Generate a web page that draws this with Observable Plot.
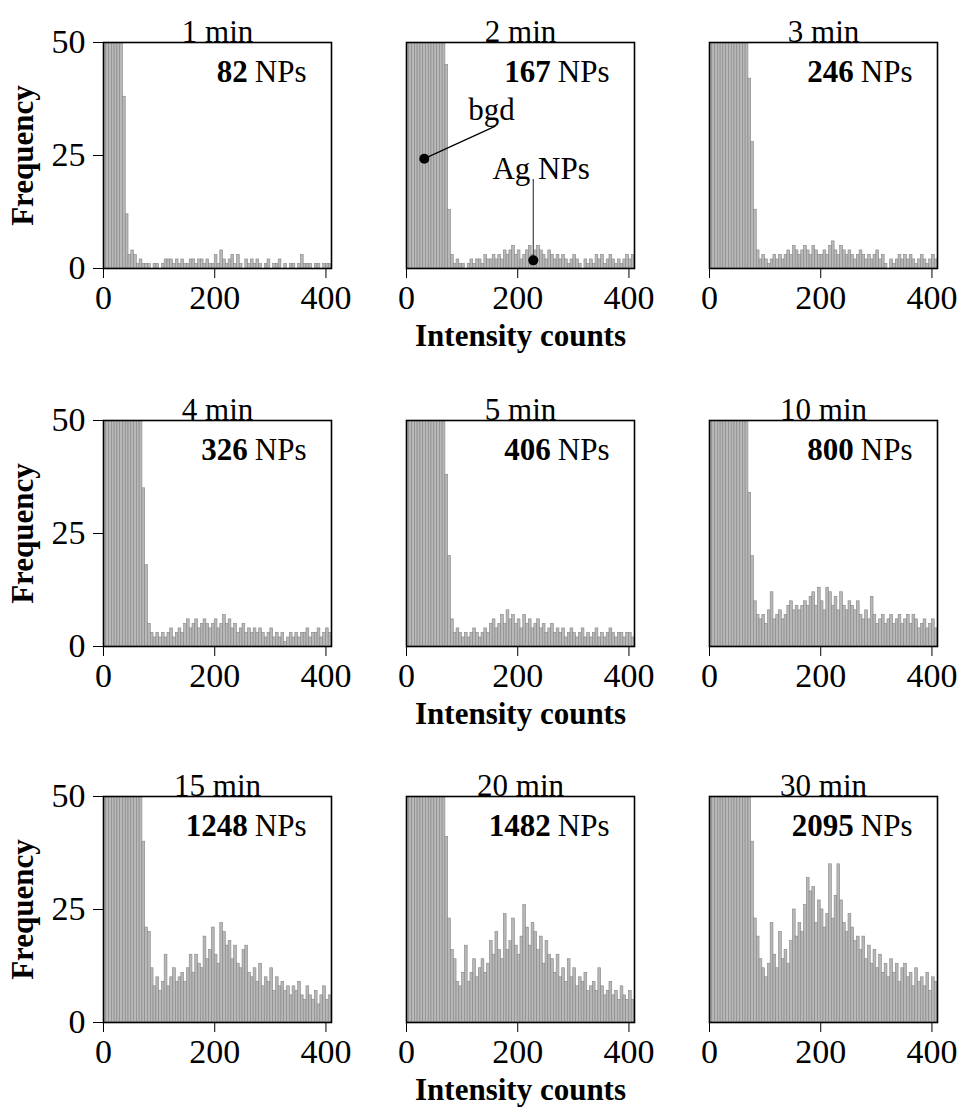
<!DOCTYPE html>
<html><head><meta charset="utf-8">
<script src="https://cdn.jsdelivr.net/npm/d3@7"></script>
<script src="https://cdn.jsdelivr.net/npm/@observablehq/plot@0.6"></script>
<style>
html,body{margin:0;padding:0;background:#fff;overflow:hidden}
#chart{position:relative;width:959px;height:1109px;overflow:hidden}
#chart svg{position:absolute;overflow:visible}
</style></head><body><div id="chart"></div>
<script>
// panel titles and particle totals
const titles = ["1 min","2 min","3 min","4 min","5 min","10 min","15 min","20 min","30 min"];
const totals = ["82","167","246","326","406","800","1248","1482","2095"];
const binWidth = 5; // intensity counts per bin, bins start at 0
const xTicks = [0, 200, 400];
const yTicks = [0, 25, 50];

// frequencies per bin (bin 0 = 0-5 counts, ...); bgd bins exceed the 50 axis limit
const f1 = [200,200,200,200,200,200,200,38,12,3,
  4,3,1,2,1,1,1,0,1,1,
  0,1,2,2,2,1,2,1,2,1,
  1,2,2,1,2,2,1,2,1,1,
  3,1,4,2,1,2,3,1,3,1,
  0,2,1,2,1,2,1,0,1,2,
  0,1,1,2,0,1,0,1,1,0,
  1,3,1,1,1,0,1,1,0,1,
  1,1];
const f2 = [200,200,200,200,200,200,200,200,200,200,
  200,200,200,200,45,13,3,1,2,1,
  1,0,1,2,1,2,2,1,3,2,
  2,3,2,3,2,4,3,4,5,3,
  4,2,3,4,5,3,4,5,4,3,
  2,4,3,2,3,2,3,2,1,2,
  3,2,1,0,2,1,2,1,3,2,
  3,1,2,3,2,1,2,1,2,3,
  2,3];
const f3 = [200,200,200,200,200,200,200,200,200,200,
  200,200,200,200,42,28,13,4,2,3,
  2,1,2,3,2,3,2,3,4,3,
  5,4,3,4,5,4,3,5,4,3,
  3,4,3,5,6,4,3,5,4,3,
  4,3,2,3,4,3,2,3,2,3,
  4,2,3,1,0,2,1,2,3,2,
  3,2,3,2,1,2,3,2,1,2,
  3,2];
const f4 = [200,200,200,200,200,200,200,200,200,200,
  200,200,200,200,35,18,5,3,2,3,
  2,3,2,3,4,2,3,4,3,5,
  6,4,5,6,4,5,6,5,4,5,
  6,4,5,7,5,6,4,5,3,4,
  5,3,4,3,4,3,4,3,2,3,
  4,2,3,2,3,1,2,3,2,3,
  2,3,3,4,2,3,3,4,2,3,
  4,3];
const f5 = [200,200,200,200,200,200,200,200,200,200,
  200,200,200,200,38,20,6,3,4,3,
  2,3,2,3,4,3,2,3,4,3,
  5,6,4,5,7,5,8,6,7,5,
  6,4,7,5,6,4,5,6,4,5,
  3,4,5,3,4,3,4,2,3,4,
  3,2,3,4,2,3,2,3,4,2,
  3,2,3,4,3,2,3,3,2,3,
  3,2];
const f10 = [200,200,200,200,200,200,200,200,200,200,
  200,200,200,200,34,20,10,7,6,7,
  5,8,12,6,7,8,6,7,9,10,
  8,9,8,9,10,9,11,12,9,13,
  10,8,13,12,9,11,8,12,9,8,
  10,9,8,10,7,6,8,6,11,7,
  5,6,7,5,6,7,5,6,7,5,
  6,7,5,7,6,4,5,6,4,5,
  6,4];
const f15 = [200,200,200,200,200,200,200,200,200,200,
  200,200,200,200,40,21,20,12,8,10,
  7,9,15,8,10,12,9,10,11,9,
  12,15,11,15,13,12,19,14,16,21,
  15,13,22,20,17,18,14,17,13,12,
  16,17,11,10,12,9,13,8,10,9,
  12,7,10,8,9,7,8,6,8,7,
  9,6,5,8,6,5,7,4,6,8,
  5,6];
const f20 = [200,200,200,200,200,200,200,200,200,200,
  200,200,200,200,41,23,16,14,9,8,
  11,17,9,11,14,10,12,14,11,13,
  18,15,20,16,14,24,16,18,23,17,
  15,19,26,21,17,22,20,16,19,13,
  18,15,14,11,15,10,12,9,14,10,
  12,8,10,9,11,7,8,9,7,12,
  8,6,7,9,6,7,5,8,6,5,
  7,5];
const f30 = [200,200,200,200,200,200,200,200,200,200,
  200,200,200,200,200,40,23,19,14,12,
  10,13,22,15,12,20,14,16,13,18,
  25,19,22,20,26,32,29,30,22,27,
  25,21,24,35,23,28,35,27,22,20,
  24,21,18,19,16,19,14,17,13,16,
  12,15,11,13,10,14,11,13,9,12,
  13,10,11,8,12,9,10,8,11,7,
  10,9];
const series = [f1, f2, f3, f4, f5, f10, f15, f20, f30];

// annotation in the 2 min panel
const bgdLabel = {text: "bgd", x: 153, y: 35, px: 32, py: 24.3, lx: 160, ly: 31.5};
const agLabel = {text: "Ag NPs", x: 242, y: 22, px: 228, py: 1.8, ly: 19.8};

const FONT = "'Liberation Serif', 'Times New Roman', serif";
const chart = document.getElementById("chart");
const colLeft = [0, 303, 606];
const rowTop = [0, 378, 754];

series.forEach((vals, i) => {
  const r = Math.floor(i / 3), c = i % 3;
  const data = vals.map((n, j) => ({x1: j * binWidth, x2: (j + 1) * binWidth, n}));
  const marks = [
    Plot.rectY(data, {x1: "x1", x2: "x2", y: "n", fill: "#b8b8b8", stroke: "#858585", strokeWidth: 0.6, clip: true}),
    Plot.frame({stroke: "#000", strokeWidth: 1.6}),
    Plot.axisX({ticks: xTicks, tickSize: 10, tickPadding: 6, fontSize: 34, label: null, tickFormat: d => String(d)}),
    Plot.text([titles[i]], {text: d => d, frameAnchor: "top", lineAnchor: "bottom", dy: -1}),
    Plot.text([totals[i]], {text: d => d, x: 272, y: 43.5, textAnchor: "end", lineAnchor: "middle", dx: -7, fontWeight: "bold"}),
    Plot.text(["NPs"], {text: d => d, x: 272, y: 43.5, textAnchor: "start", lineAnchor: "middle"})
  ];
  if (c === 0) {
    marks.push(Plot.axisY({ticks: yTicks, tickSize: 10, tickPadding: 8, fontSize: 34, label: null}));
    marks.push(Plot.text(["Frequency"], {text: d => d, frameAnchor: "left", textAnchor: "middle", lineAnchor: "middle", dx: -80, rotate: -90, fontWeight: "bold"}));
  }
  if (c === 1) {
    marks.push(Plot.text(["Intensity counts"], {text: d => d, frameAnchor: "bottom", lineAnchor: "middle", dy: 68, fontWeight: "bold"}));
  }
  if (i === 1) {
    marks.push(Plot.link([bgdLabel], {x1: "px", y1: "py", x2: "lx", y2: "ly", stroke: "#000", strokeWidth: 1.2}));
    marks.push(Plot.link([agLabel], {x1: "px", y1: "py", x2: "px", y2: "ly", stroke: "#444", strokeWidth: 1.2}));
    marks.push(Plot.dot([bgdLabel, agLabel], {x: "px", y: "py", r: 5, fill: "#000"}));
    marks.push(Plot.text([bgdLabel, agLabel], {x: "x", y: "y", text: "text", lineAnchor: "middle"}));
  }
  const svg = Plot.plot({
    width: 360, height: 360,
    marginLeft: 103, marginRight: 29, marginTop: 42, marginBottom: 92,
    x: {domain: [0, 410]},
    y: {domain: [0, 50], axis: c === 0 ? undefined : null},
    style: {fontFamily: FONT, fontSize: "31px", color: "#000", background: "transparent", overflow: "visible"},
    marks
  });
  svg.style.left = colLeft[c] + "px";
  svg.style.top = rowTop[r] + "px";
  chart.appendChild(svg);
});
</script>
</body></html>
